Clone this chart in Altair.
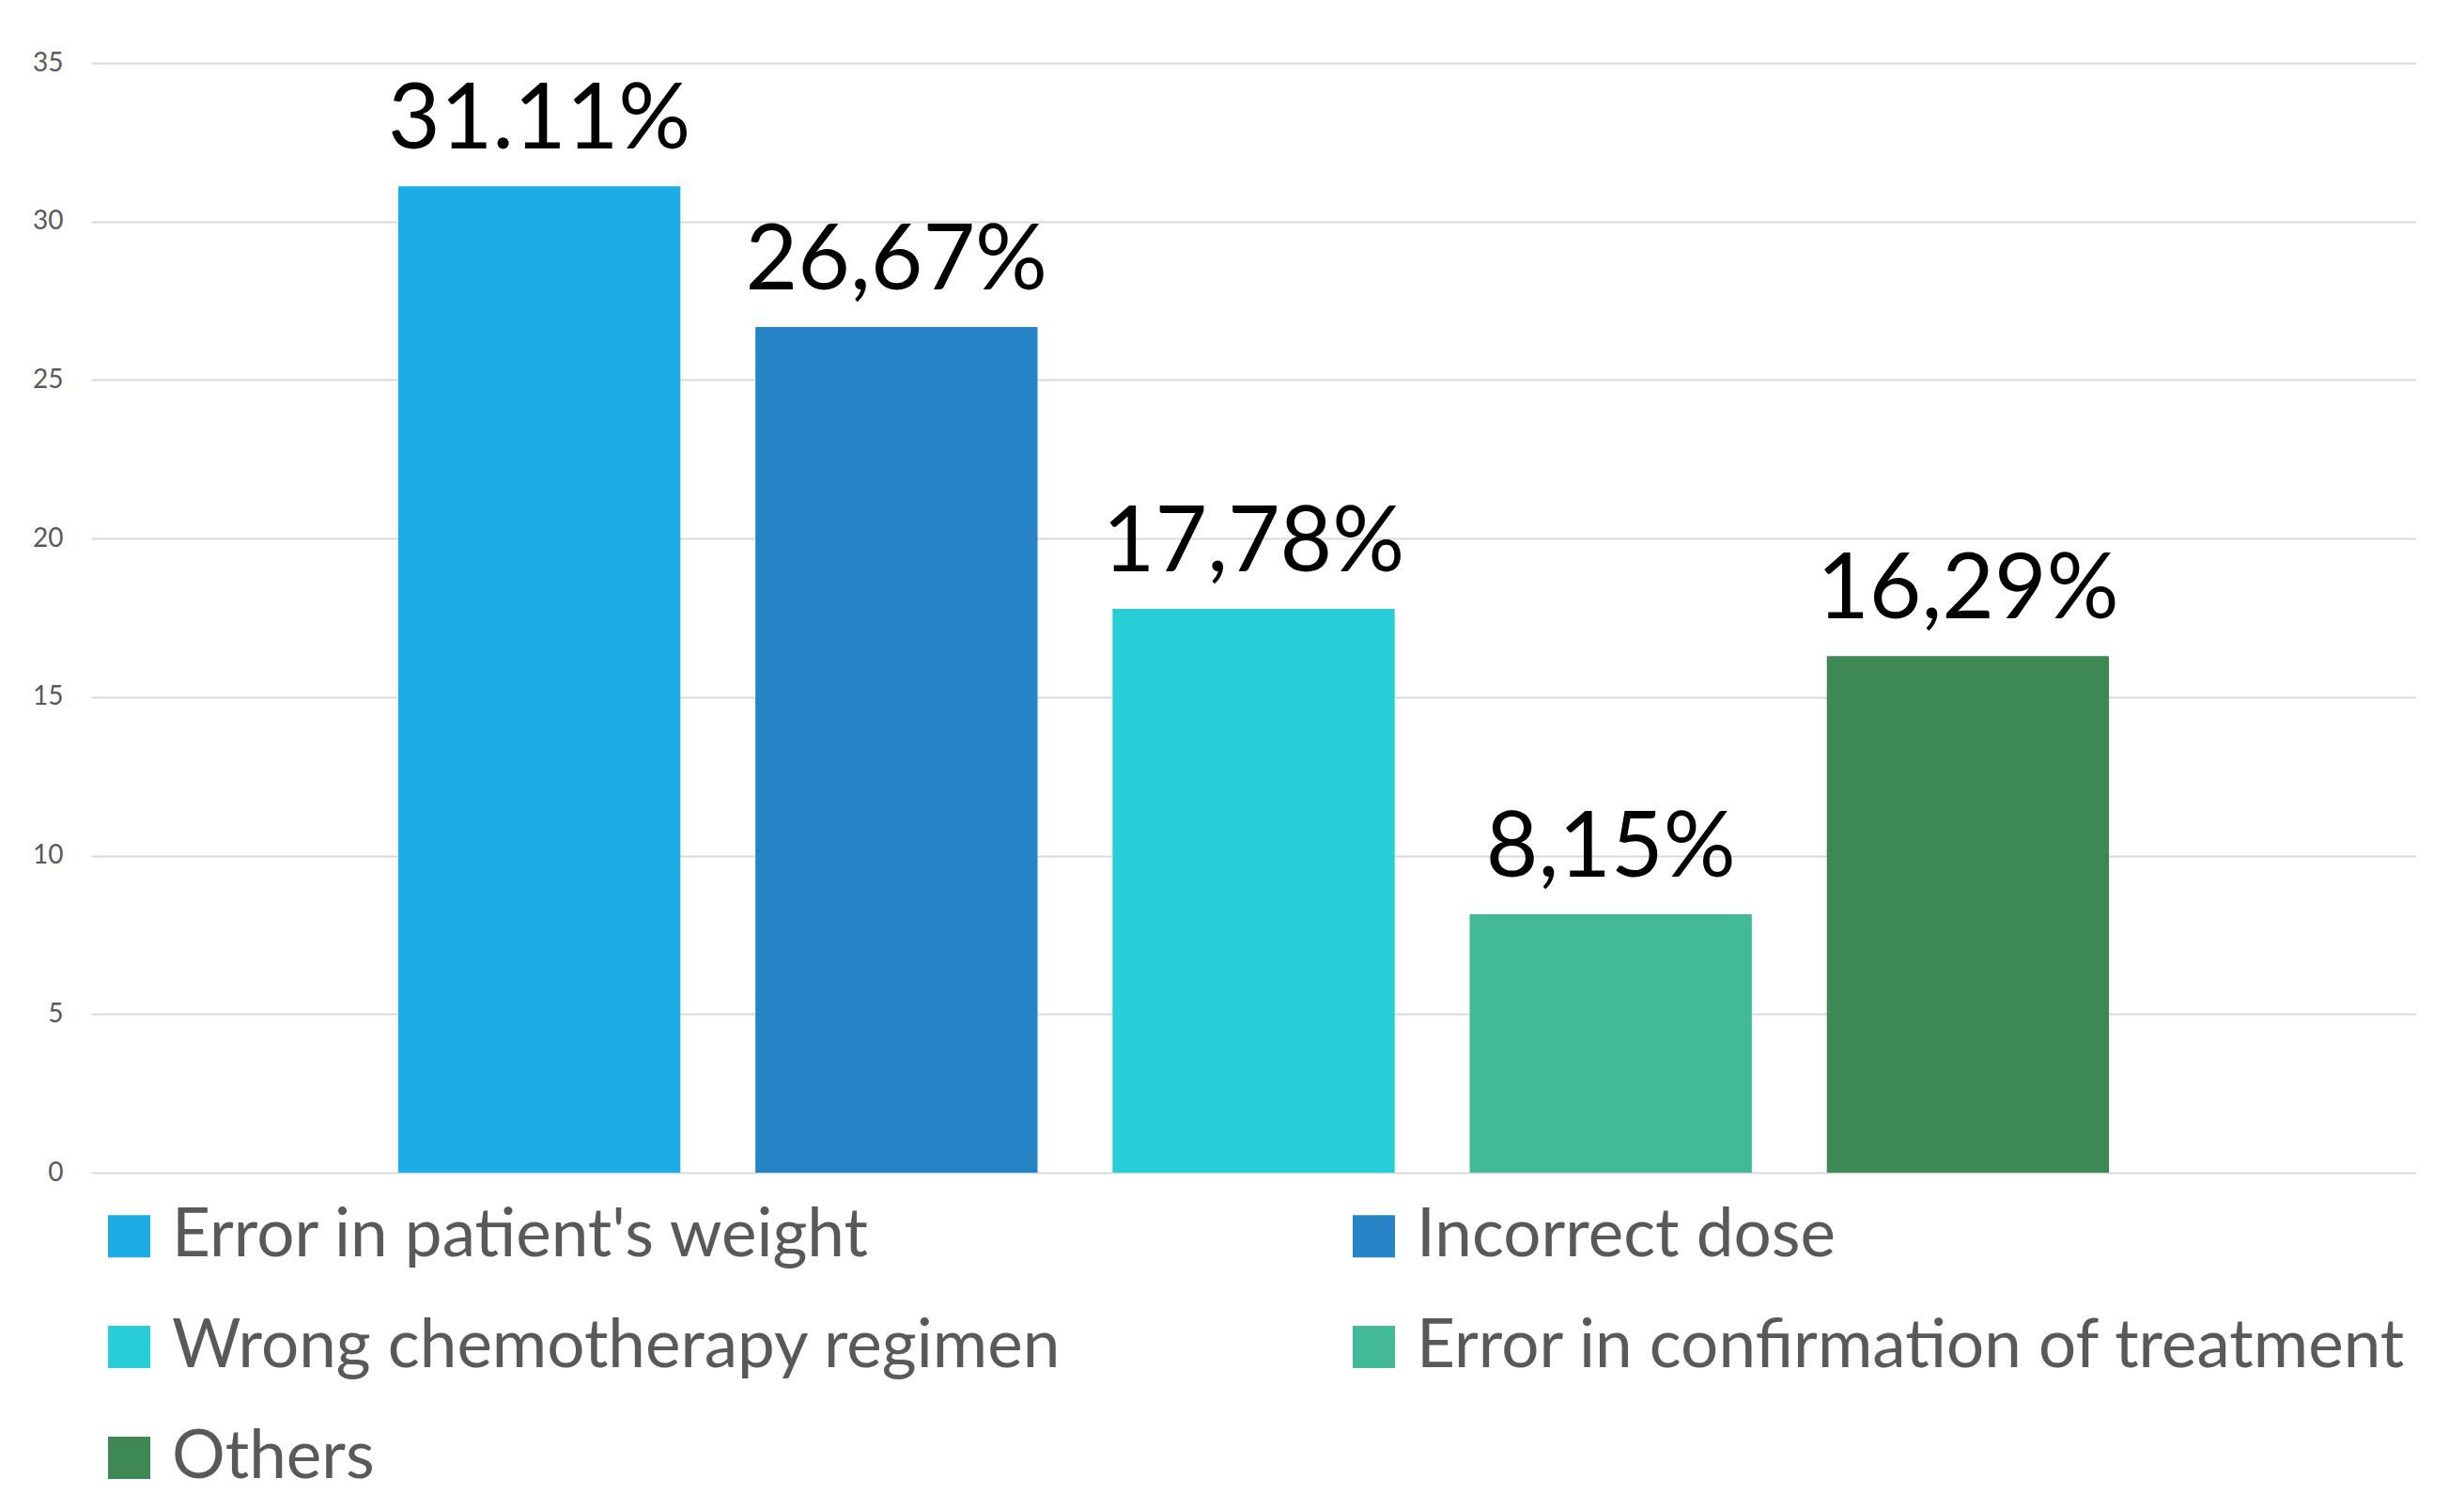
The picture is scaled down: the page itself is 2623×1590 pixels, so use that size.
import altair as alt
import pandas as pd

categories = ["Error in patient's weight", "Incorrect dose", "Wrong chemotherapy regimen",
              "Error in confirmation of treatment", "Others"]
values = [31.11, 26.67, 17.78, 8.15, 16.29]
labels = ["31.11%", "26,67%", "17,78%", "8,15%", "16,29%"]
colors = ["#1CADE4", "#2683C6", "#27CED7", "#42BA97", "#3E8853"]
y_ticks = [0, 5, 10, 15, 20, 25, 30, 35]

df = pd.DataFrame({"cat": categories, "val": values, "lab": labels})

FONT = "Lato"

x = alt.X("cat:N", sort=categories, axis=None,
          scale=alt.Scale(paddingInner=0.21, paddingOuter=0.86))
y = alt.Y("val:Q", title=None,
          scale=alt.Scale(domain=[0, 35], nice=False),
          axis=alt.Axis(values=y_ticks, domain=False, ticks=False, grid=True,
                        gridColor="#D9D9D9", gridWidth=2, labelPadding=30,
                        labelFontSize=28, labelColor="#595959", labelFont=FONT))

bars = alt.Chart(df).mark_bar().encode(
    x=x, y=y,
    color=alt.Color("cat:N", sort=categories,
                    scale=alt.Scale(domain=categories, range=colors),
                    legend=alt.Legend(title=None, orient="none", legendX=5, legendY=1213,
                                      direction="horizontal",
                                      columns=2, columnPadding=297, rowPadding=46,
                                      symbolType="square", symbolSize=2025,
                                      symbolStrokeWidth=0, labelOffset=10,
                                      labelFontSize=71, labelFont=FONT, labelColor="#595959",
                                      labelLimit=2000, padding=0))
)

text = alt.Chart(df).mark_text(baseline="alphabetic", dy=-40, fontSize=96,
                               font=FONT, color="#000000").encode(
    x=alt.X("cat:N", sort=categories), y="val:Q", text="lab:N")

chart = (bars + text).properties(
    width=2475, height=1181,
    autosize=alt.AutoSizeParams(type="none"),
    padding={"left": 89, "top": 59, "right": 43, "bottom": 342},
    background="white",
).configure_view(stroke=None)

chart.save("out.html", embed_options={"renderer": "svg", "actions": False})
